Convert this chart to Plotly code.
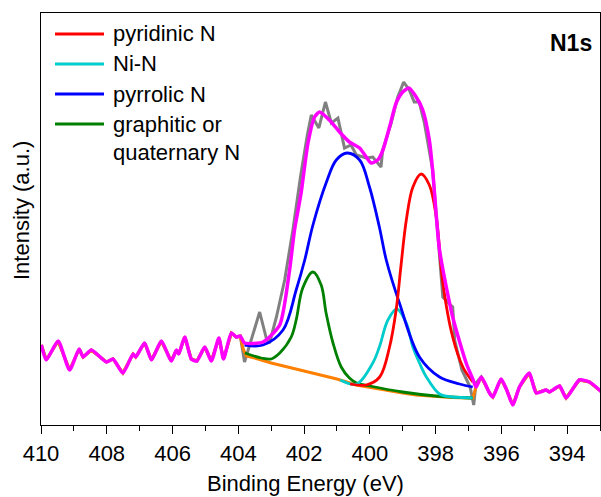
import plotly.graph_objects as go

# ---------------- data ----------------
# Raw noise outside the fitted window (shared by raw data, background and envelope)
left_E = [409.99, 409.84, 409.48, 409.13, 408.84, 408.72, 408.47, 408.01, 407.81, 407.51,
          407.20, 407.12, 406.85, 406.64, 406.34, 406.04, 405.88, 405.81, 405.63, 405.43,
          405.26, 405.02, 404.82, 404.59, 404.45, 404.21, 404.06, 403.94]
left_I = [80, 65, 84, 55, 76, 68, 75, 63, 66, 52,
          71, 68, 82, 65, 84, 64, 75, 71, 88, 66,
          64, 78, 64, 87, 66, 92, 88, 89]

right_E = [396.77, 396.61, 396.36, 396.26, 396.01, 395.85, 395.65, 395.45, 395.15, 394.94,
           394.64, 394.54, 394.23, 394.03, 393.63, 393.32, 392.95]
right_I = [38, 48, 32, 28, 46, 36, 20, 38, 52, 32,
           35, 33, 39, 27, 45, 43, 33]

# Raw data inside the fitted window
raw_E = [403.81, 403.35, 403.15, 403.05, 402.84, 402.59, 402.34, 402.10, 401.90, 401.78,
         401.55, 401.35, 401.17, 400.97, 400.77, 400.57, 400.41, 400.11, 399.91, 399.66,
         399.61, 399.35, 399.15, 398.97, 398.80, 398.65, 398.50, 398.34, 398.09, 397.95,
         397.78, 397.55, 397.48, 397.42, 397.20, 396.95, 396.84]
raw_I = [63, 113, 87, 82, 108, 145, 195, 250, 290, 310,
         297, 323, 302, 307, 277, 280, 270, 267, 268, 258,
         275, 302, 328, 343, 335, 323, 323, 302, 255, 200,
         128, 120, 118, 85, 55, 38, 20]

# Shirley-type background inside the window
bg_E = [403.86, 403.76, 403.50, 403.00, 402.50, 402.14, 401.50, 401.00, 400.41, 400.00,
        399.50, 399.00, 398.59, 398.00, 397.50, 396.87]
bg_I = [77, 69, 67, 62, 58, 55, 50, 46, 40, 37.5,
        34.5, 32, 30, 28.5, 27.5, 26.7]

# Envelope (sum of fitted components) inside the window
env_E = [403.81, 403.25, 402.74, 402.44, 402.29, 402.09, 401.88, 401.68, 401.53, 401.23,
         400.92, 400.62, 400.31, 400.11, 399.96, 399.76, 399.60, 399.40, 399.20, 399.00,
         398.81, 398.59, 398.39, 398.19, 398.09, 397.88, 397.48, 397.07, 396.87]
env_I = [82, 83, 100, 155, 195, 232, 282, 308, 313, 305,
         293, 283, 277, 268, 262, 265, 275, 298, 322, 333,
         337, 328, 315, 285, 255, 175, 108, 62, 46]

# Fitted components (background included)
pyridinic_E = [400.60, 400.11, 399.70, 399.40, 399.20, 399.05, 398.89, 398.69, 398.44, 398.19,
               397.98, 397.78, 397.48, 397.17, 396.87]
pyridinic_I = [41, 40, 48, 78, 115, 160, 205, 238, 251, 240,
               208, 142, 88, 58, 43]

nin_E = [400.90, 400.40, 399.91, 399.71, 399.45, 399.18, 398.89, 398.69, 398.49, 398.28,
         397.88, 397.50, 397.20, 396.87]
nin_I = [45, 41, 62, 78, 105, 116, 102, 78, 62, 48,
         31, 28, 27.5, 27]

pyrrolic_E = [403.81, 403.25, 402.64, 402.24, 401.98, 401.73, 401.33, 401.02, 400.69, 400.31,
              400.01, 399.71, 399.50, 399.10, 398.49, 397.88, 397.27, 396.87]
pyrrolic_I = [80, 80, 95, 135, 165, 200, 242, 265, 272, 265,
              238, 198, 165, 122, 68, 48, 41, 38]

graphitic_E = [403.80, 403.30, 403.00, 402.74, 402.39, 402.24, 402.04, 401.73, 401.48, 401.33,
               401.12, 400.87, 400.62, 400.40, 400.00, 399.00, 398.00, 396.87]
graphitic_I = [72, 67, 66, 72, 88, 105, 137, 153, 140, 112,
               82, 58, 47, 42, 39, 33, 29, 27]

legend_names = ["pyridinic N", "Ni-N", "pyrrolic N", "graphitic or", "quaternary N"]
x_ticks = [410, 408, 406, 404, 402, 400, 398, 396, 394]

# ---------------- figure ----------------
FONT = "Liberation Sans, Arial, sans-serif"
fig = go.Figure()

gray_x = left_E + raw_E + right_E
gray_y = left_I + raw_I + [42, 48] + right_I[2:]
fig.add_trace(go.Scatter(x=gray_x, y=gray_y, mode="lines",
                         line=dict(color="#808080", width=3), showlegend=False))

fig.add_trace(go.Scatter(x=left_E + bg_E + right_E, y=left_I + bg_I + right_I, mode="lines",
                         line=dict(color="#FF8000", width=3), showlegend=False))

comps = [
    (graphitic_E, graphitic_I, "#008000"),
    (nin_E, nin_I, "#00CCCC"),
    (pyrrolic_E, pyrrolic_I, "#0000FF"),
    (pyridinic_E, pyridinic_I, "#FF0000"),
]
for ex, iy, col in comps:
    fig.add_trace(go.Scatter(x=ex, y=iy, mode="lines", line_shape="spline",
                             line=dict(color=col, width=2.8, smoothing=1.0), showlegend=False))

fig.add_trace(go.Scatter(x=left_E + env_E + right_E, y=left_I + env_I + right_I, mode="lines",
                         line_shape="spline",
                         line=dict(color="#FF00FF", width=3.5, smoothing=0.6), showlegend=False))

# ---------------- legend (drawn manually) ----------------
W, H = 601, 497
L, R, T, B = 41, 1, 13, 72
pw, ph = W - L - R, H - T - B

def px(x):
    return (x - L) / pw

def py(y):
    return (H - B - y) / ph

rows_y = [34, 64, 94, 124]
cols = ["#FF0000", "#00CCCC", "#0000FF", "#008000"]
shapes = []
annotations = []
for yy, col in zip(rows_y, cols):
    shapes.append(dict(type="line", xref="paper", yref="paper",
                       x0=px(55), x1=px(104), y0=py(yy), y1=py(yy),
                       line=dict(color=col, width=3)))
for yy, name in zip(rows_y + [153], legend_names):
    annotations.append(dict(text=name, xref="paper", yref="paper", x=px(111), y=py(yy),
                            xanchor="left", yanchor="middle", showarrow=False,
                            font=dict(family=FONT, size=22, color="black")))

annotations.append(dict(text="<b>N1s</b>", xref="paper", yref="paper", x=px(594), y=py(43),
                        xanchor="right", yanchor="middle", showarrow=False,
                        font=dict(family=FONT, size=23, color="black")))
annotations.append(dict(text="Binding Energy (eV)", xref="paper", yref="paper", x=px(305), y=py(483),
                        xanchor="center", yanchor="middle", showarrow=False,
                        font=dict(family=FONT, size=22, color="black")))
annotations.append(dict(text="Intensity (a.u.)", xref="paper", yref="paper", x=px(21), y=py(211),
                        xanchor="center", yanchor="middle", showarrow=False, textangle=-90,
                        font=dict(family=FONT, size=22, color="black")))

fig.update_layout(
    width=W, height=H,
    margin=dict(l=L, r=R, t=T, b=B),
    paper_bgcolor="white", plot_bgcolor="white",
    shapes=shapes, annotations=annotations,
    showlegend=False,
    xaxis=dict(range=[410, 393], tickvals=x_ticks, ticktext=[str(v) for v in x_ticks],
               ticks="outside", ticklen=8, tickwidth=1.3, tickcolor="black",
               minor=dict(dtick=1, tick0=0, ticks="outside", ticklen=5, tickwidth=1.3,
                          tickcolor="black", showgrid=False),
               showline=True, linecolor="black", linewidth=1.3, mirror=True,
               showgrid=False, zeroline=False,
               tickfont=dict(family=FONT, size=22, color="black")),
    yaxis=dict(range=[0, 412], showticklabels=False, ticks="",
               showline=True, linecolor="black", linewidth=1.3, mirror=True,
               showgrid=False, zeroline=False),
)

fig.write_html("out.html")
